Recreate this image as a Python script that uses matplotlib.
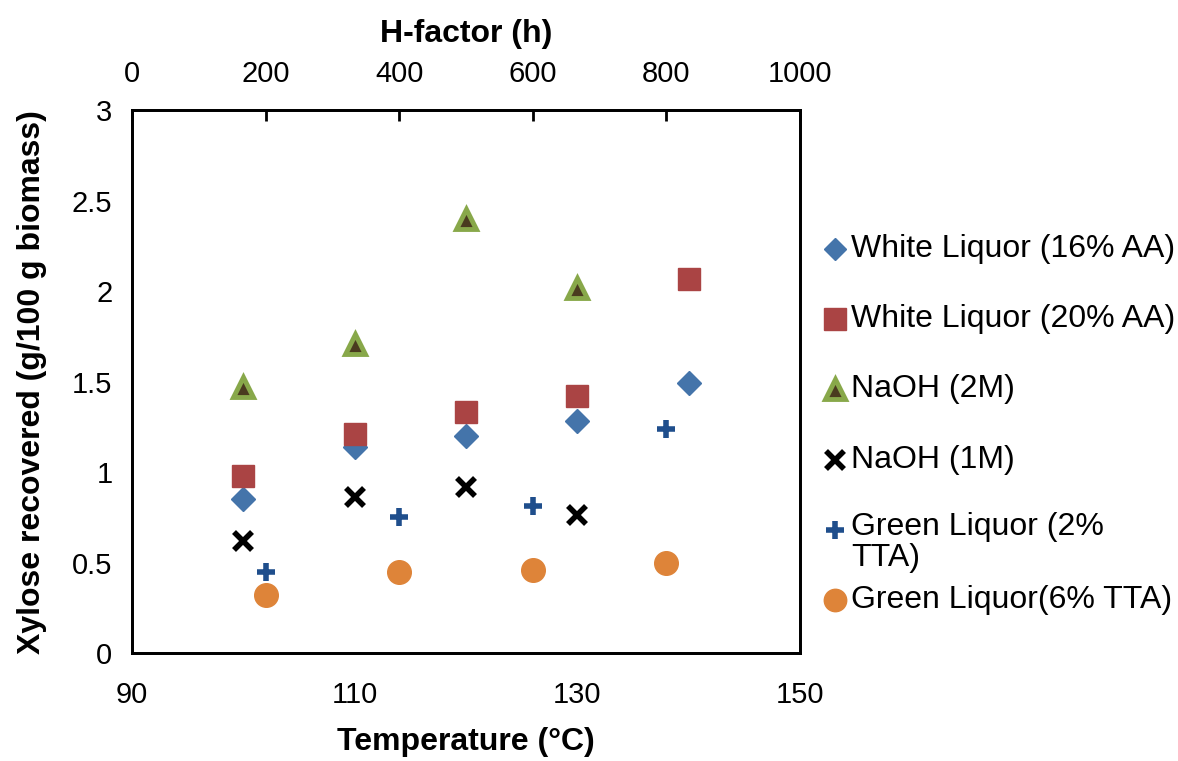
import matplotlib
matplotlib.use("Agg")
import matplotlib.pyplot as plt
from matplotlib.lines import Line2D
from matplotlib.ticker import FuncFormatter

plt.rcParams['font.family'] = ['Liberation Sans', 'DejaVu Sans']

# Data
temperature = [100, 110, 120, 130, 140]
wl16 = [0.85, 1.14, 1.20, 1.28, 1.49]
wl20 = [0.98, 1.21, 1.33, 1.42, 2.07]
naoh_temp = [100, 110, 120, 130]
naoh2 = [1.47, 1.71, 2.40, 2.02]
naoh1 = [0.62, 0.86, 0.92, 0.76]

h_factor = [200, 400, 600, 800]
gl2 = [0.45, 0.75, 0.81, 1.24]
gl6 = [0.32, 0.45, 0.46, 0.50]

labels = ["White Liquor (16% AA)", "White Liquor (20% AA)", "NaOH (2M)",
          "NaOH (1M)", "Green Liquor (2%\nTTA)", "Green Liquor(6% TTA)"]

# marker styles
styles = [
    dict(marker='D', ms=12, mfc='#4474aa', mec='#4474aa', mew=1),
    dict(marker='s', ms=16, mfc='#aa4444', mec='#aa4444', mew=1),
    dict(marker='^', ms=15, mfc='#4a3b1f', mec='#88a84a', mew=3.5),
    dict(marker='x', ms=13, mfc='black', mec='black', mew=4),
    dict(marker='+', ms=13, mfc='#1f4e8c', mec='#1f4e8c', mew=4),
    dict(marker='o', ms=17, mfc='#de8439', mec='#de8439', mew=1),
]

TICK_FS = 21
TITLE_FS = 23

fig = plt.figure(figsize=(11.78, 7.61), dpi=100)
ax = fig.add_axes([0.112, 0.142, 0.567, 0.713])

ax.plot(temperature, wl16, ls='none', **styles[0])
ax.plot(temperature, wl20, ls='none', **styles[1])
ax.plot(naoh_temp, naoh2, ls='none', **styles[2])
ax.plot(naoh_temp, naoh1, ls='none', **styles[3])

ax.set_xlim(90, 150)
ax.set_ylim(0, 3)
ax.set_xticks([90, 110, 130, 150])
ax.set_yticks([0, 0.5, 1, 1.5, 2, 2.5, 3])
ax.yaxis.set_major_formatter(FuncFormatter(lambda v, p: '%g' % v))
ax.tick_params(axis='both', length=0, labelsize=TICK_FS)
ax.tick_params(axis='x', pad=20)
ax.tick_params(axis='y', pad=14)
ax.set_xlabel('Temperature (°C)', fontsize=TITLE_FS, fontweight='bold', labelpad=13)
ax.set_ylabel('Xylose recovered (g/100 g biomass)', fontsize=TITLE_FS,
              fontweight='bold', labelpad=18)
for s in ax.spines.values():
    s.set_linewidth(2)

# top axis: H-factor
ax2 = ax.twiny()
ax2.plot(h_factor, gl2, ls='none', **styles[4])
ax2.plot(h_factor, gl6, ls='none', **styles[5])
ax2.set_xlim(0, 1000)
ax2.set_xticks([0, 200, 400, 600, 800, 1000])
ax2.tick_params(axis='x', direction='in', length=8, width=2, labelsize=TICK_FS, pad=16)
ax2.set_xlabel('H-factor (h)', fontsize=TITLE_FS, fontweight='bold', labelpad=13)
for s in ax2.spines.values():
    s.set_linewidth(2)

# legend, drawn entry by entry like the Excel original
for i, (lab, st) in enumerate(zip(labels, styles)):
    y = 1 - (249 + 70.2 * i) / 761
    fig.add_artist(Line2D([835 / 1178], [y], transform=fig.transFigure,
                          ls='none', **{**st, 'ms': st['ms'] * 0.95}))
    if '\n' in lab:
        fig.text(851 / 1178, y + 18 / 761, lab, fontsize=TITLE_FS, va='top',
                 ha='left', linespacing=1.05)
    else:
        fig.text(851 / 1178, y, lab, fontsize=TITLE_FS, va='center', ha='left')

fig.savefig('out.png', dpi=100)
